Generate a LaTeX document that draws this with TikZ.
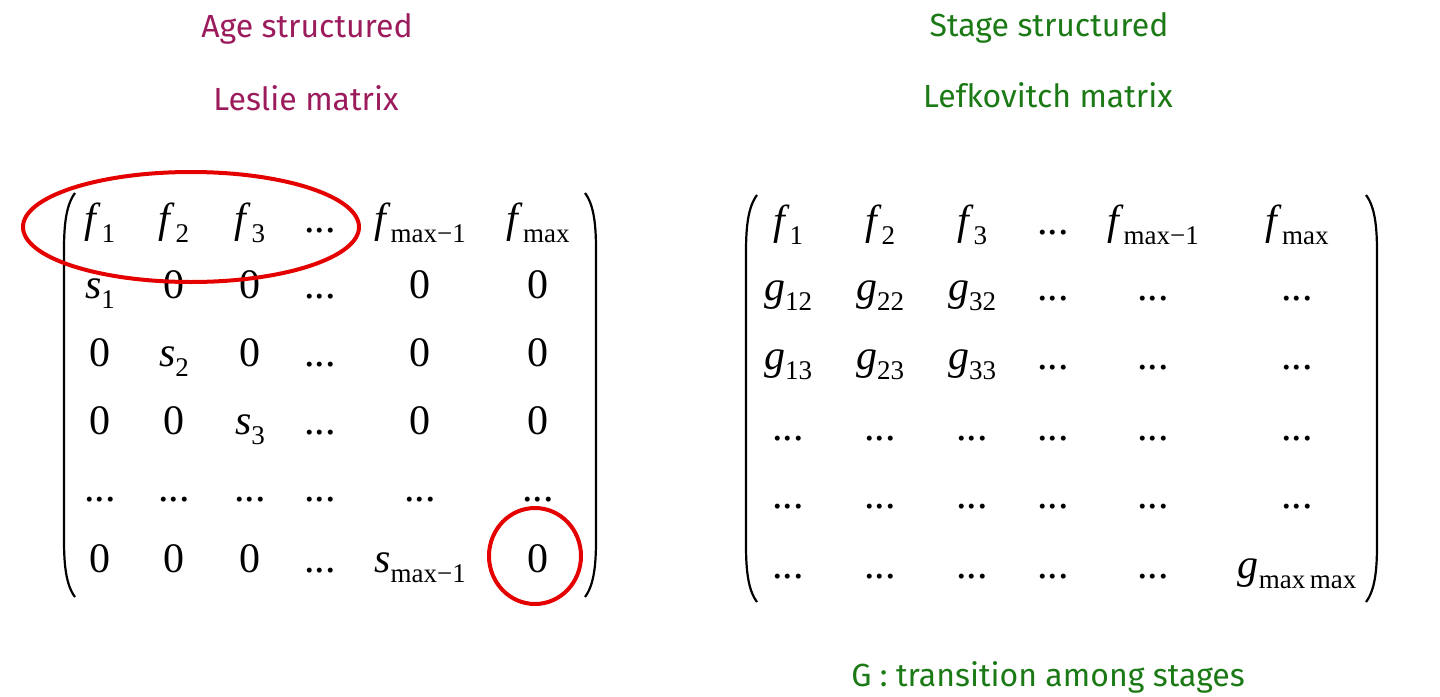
\documentclass[tikz,border=0pt]{standalone}
\usepackage{fontspec}
\setmainfont{Liberation Serif}
\newfontfamily\handfont{Fira Sans}
\usetikzlibrary{positioning}
\definecolor{ageColor}{RGB}{155,27,92}
\definecolor{stageColor}{RGB}{28,122,22}
\newcommand{\matEntry}[2]{\textit{#1}\raisebox{-0.25em}{\fontsize{13.5}{13.5}\selectfont #2}}
\newcommand{\dotsEntry}{.\kern0pt.\kern0pt.}
\tikzset{
  entry/.style={anchor=base, inner sep=0pt, font=\fontsize{21}{21}\selectfont},
  title/.style={anchor=base, inner sep=0pt, font=\handfont\fontsize{16}{16}\selectfont},
  paren/.style={line width=1.1pt},
  highlight/.style={draw=red!90!black, line width=2pt}
}

\begin{document}
\begin{tikzpicture}[x=0.5pt, y=-0.5pt]
  \useasboundingbox (0,0) rectangle (1440,696);
  % titles
  \node [title, text=ageColor] (ageTitle) at (307,38) {Age structured};
  \node [title, text=ageColor] (leslieTitle) at (306,110) {Leslie matrix};
  \node [title, text=stageColor] (stageTitle) at (1049,36) {Stage structured};
  \node [title, text=stageColor] (lefkoTitle) at (1048,107) {Lefkovitch matrix};
  \node [title, text=stageColor] (gNote) at (1048,686) {G : transition among stages};
  % Leslie matrix
  \foreach \row [count=\r] in {
      {\matEntry{f}{1},\matEntry{f}{2},\matEntry{f}{3},\dotsEntry,\matEntry{f}{max−1},\matEntry{f}{max}},
      {\matEntry{s}{1},0,0,\dotsEntry,0,0},
      {0,\matEntry{s}{2},0,\dotsEntry,0,0},
      {0,0,\matEntry{s}{3},\dotsEntry,0,0},
      {\dotsEntry,\dotsEntry,\dotsEntry,\dotsEntry,\dotsEntry,\dotsEntry},
      {0,0,0,\dotsEntry,\matEntry{s}{max−1},0}}{
    \foreach \e [count=\c] in \row {
      \pgfmathsetmacro{\xx}{{100,174,250,320,420,538}[\c-1]}
      \pgfmathsetmacro{\yy}{{232,298,366,434,501,572}[\r-1]}
      \node [entry] (leslie-\r-\c) at (\xx,\yy) {\e};
    }
  }
  \draw [paren] (75,193) .. controls (66,205) and (64,225) .. (64,250) -- (64,540)
    .. controls (64,565) and (66,585) .. (75,597);
  \draw [paren] (585,193) .. controls (594,205) and (596,225) .. (596,250) -- (596,540)
    .. controls (596,565) and (594,585) .. (585,597);
  % Lefkovitch matrix
  \foreach \row [count=\r] in {
      {\matEntry{f}{1},\matEntry{f}{2},\matEntry{f}{3},\dotsEntry,\matEntry{f}{max−1},\matEntry{f}{max}},
      {\matEntry{g}{12},\matEntry{g}{22},\matEntry{g}{32},\dotsEntry,\dotsEntry,\dotsEntry},
      {\matEntry{g}{13},\matEntry{g}{23},\matEntry{g}{33},\dotsEntry,\dotsEntry,\dotsEntry},
      {\dotsEntry,\dotsEntry,\dotsEntry,\dotsEntry,\dotsEntry,\dotsEntry},
      {\dotsEntry,\dotsEntry,\dotsEntry,\dotsEntry,\dotsEntry,\dotsEntry},
      {\dotsEntry,\dotsEntry,\dotsEntry,\dotsEntry,\dotsEntry,\matEntry{g}{max\,max}}}{
    \foreach \e [count=\c] in \row {
      \pgfmathsetmacro{\xx}{{788,880,972,1053,1153,1297}[\c-1]}
      \pgfmathsetmacro{\yy}{{234,300,369,440,508,578}[\r-1]}
      \node [entry] (lefko-\r-\c) at (\xx,\yy) {\e};
    }
  }
  \draw [paren] (757,195) .. controls (748,207) and (746,227) .. (746,252) -- (746,545)
    .. controls (746,570) and (748,590) .. (757,602);
  \draw [paren] (1366,195) .. controls (1375,207) and (1377,227) .. (1377,252) -- (1377,545)
    .. controls (1377,570) and (1375,590) .. (1366,602);
  % highlights
  \draw [highlight] (191,227) ellipse [x radius=168, y radius=55];
  \draw [highlight] (535,556) ellipse [x radius=46, y radius=48];
\end{tikzpicture}
\end{document}
